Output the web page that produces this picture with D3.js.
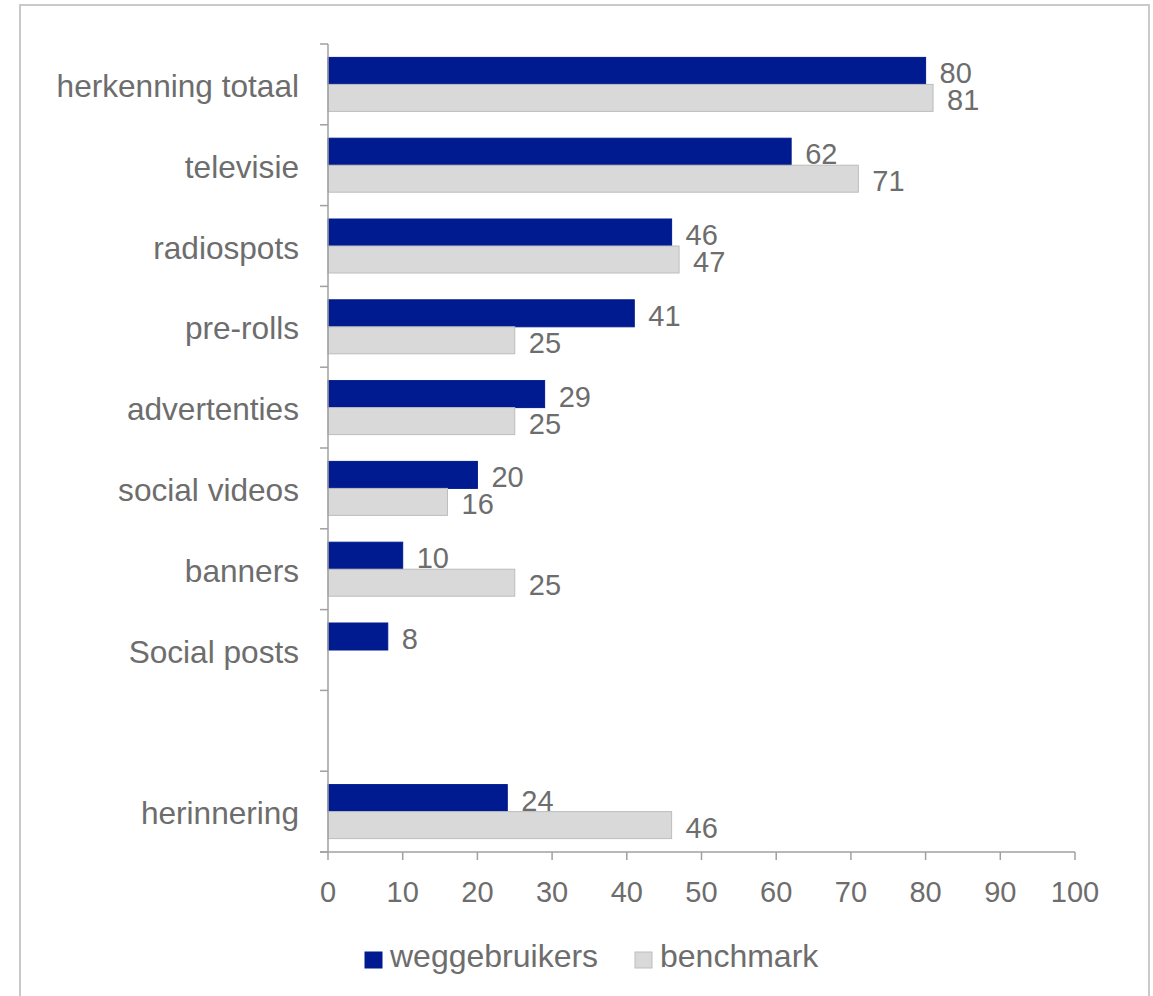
<!DOCTYPE html>
<html><head><meta charset="utf-8">
<script src="https://cdn.jsdelivr.net/npm/d3@7"></script>
<style>body{margin:0;background:#fff;} svg{display:block;font-family:"Liberation Sans",Arial,sans-serif;}</style>
</head><body><svg id="c" width="1153" height="996"></svg>
<script>
const categories = ["herkenning totaal","televisie","radiospots","pre-rolls","advertenties","social videos","banners","Social posts","","herinnering"];
const weggebruikers = [80,62,46,41,29,20,10,8,null,24];
const benchmark = [81,71,47,25,25,16,25,null,null,46];
const xTicks = [0,10,20,30,40,50,60,70,80,90,100];
const seriesNames = ["weggebruikers","benchmark"];
const colors = ["#001a8f","#d9d9d9"];
const strokes = ["#001a8f","#bdbdbd"];
const textColor = "#6d6d6d";
const axisColor = "#a0a0a0";

const svg = d3.select("#c");
svg.append("rect").attr("x",20).attr("y",5).attr("width",1129).attr("height",1000)
  .attr("fill","none").attr("stroke","#c9c9c9").attr("stroke-width",2);

const pL = 328, pR = 1075, pT = 44, pB = 852;
const keys = categories.map((c,i)=>i);
const x = d3.scaleLinear().domain([0,100]).range([pL,pR]);
const y = d3.scaleBand().domain(keys).range([pT,pB]).paddingInner(0).paddingOuter(0);
const bandPad = 13.4;
const barH = (y.bandwidth() - 2*bandPad)/2;

const g = svg.append("g");
const series = [weggebruikers, benchmark];
series.forEach((vals, s) => {
  const data = vals.map((v,i)=>({v,i})).filter(d=>d.v!=null);
  g.selectAll(".bar"+s).data(data).join("rect")
    .attr("x", x(0))
    .attr("y", d => y(d.i) + bandPad + s*barH)
    .attr("width", d => x(d.v)-x(0))
    .attr("height", barH)
    .attr("fill", colors[s]).attr("stroke", strokes[s]).attr("stroke-width",1);
  g.selectAll(".lab"+s).data(data).join("text")
    .attr("x", d => x(d.v) + 14)
    .attr("y", d => y(d.i) + bandPad + s*barH + barH/2 + 12.5)
    .attr("font-size", 29).attr("fill", textColor)
    .text(d => d.v);
});

// y axis
svg.append("line").attr("x1",pL).attr("x2",pL).attr("y1",pT).attr("y2",pB)
  .attr("stroke",axisColor).attr("stroke-width",1.5);
const boundaries = keys.map(k=>y(k)).concat([pB]);
svg.selectAll(".ytick").data(boundaries).join("line")
  .attr("x1",pL-8).attr("x2",pL).attr("y1",d=>d).attr("y2",d=>d)
  .attr("stroke",axisColor).attr("stroke-width",1.5);
svg.selectAll(".ylab").data(keys).join("text")
  .attr("x",299).attr("y",k=>y(k)+y.bandwidth()/2+12.5)
  .attr("text-anchor","end")
  .attr("font-size",31.6).attr("fill",textColor).text(k=>categories[k]);

// x axis
svg.append("line").attr("x1",pL-8).attr("x2",pR).attr("y1",pB).attr("y2",pB)
  .attr("stroke",axisColor).attr("stroke-width",1.5);
svg.selectAll(".xtick").data(xTicks).join("line")
  .attr("x1",d=>x(d)).attr("x2",d=>x(d)).attr("y1",pB).attr("y2",pB+8)
  .attr("stroke",axisColor).attr("stroke-width",1.5);
svg.selectAll(".xlab").data(xTicks).join("text")
  .attr("x",d=>x(d)).attr("y",pB+50)
  .attr("text-anchor","middle")
  .attr("font-size",29).attr("fill",textColor).text(d=>d);

// legend
const legX = [365, 635];
seriesNames.forEach((n,i)=>{
  svg.append("rect").attr("x",legX[i]).attr("y",952).attr("width",17).attr("height",16)
    .attr("fill",colors[i]).attr("stroke",strokes[i]);
  svg.append("text").attr("x",legX[i]+25).attr("y",967)
    .attr("font-size",32).attr("fill",textColor).text(n);
});
</script></body></html>
